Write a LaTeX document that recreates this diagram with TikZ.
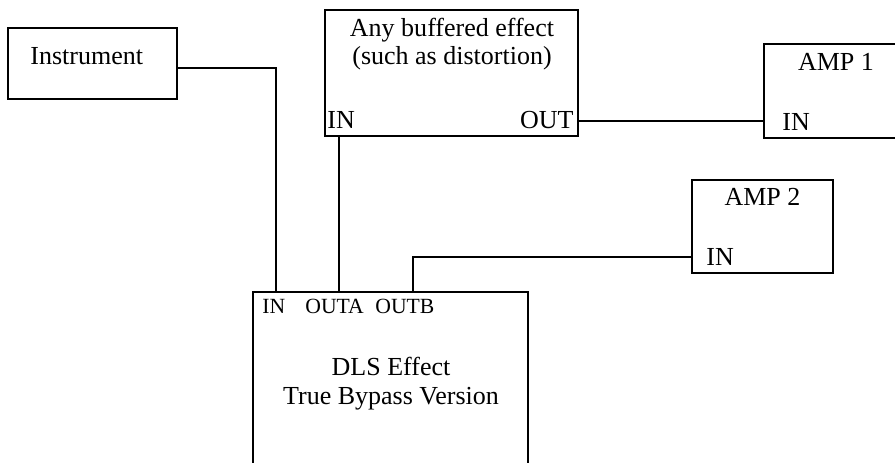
\documentclass[tikz,border=0pt]{standalone}
\usepackage{fontspec}
\setmainfont{Liberation Serif}
\def\px{0.4615pt}
\begin{document}
\begin{tikzpicture}[x=\px, y=-\px,
  box/.style={draw, line width=0.9pt, inner sep=0pt, outer sep=0pt},
  wire/.style={line width=0.9pt},
  txt/.style={font=\fontsize{12}{13}\selectfont, inner sep=0pt},
  tag/.style={font=\fontsize{12}{13}\selectfont, inner sep=0pt, anchor=base west},
  smalltag/.style={font=\fontsize{10}{12}\selectfont, inner sep=0pt, anchor=base west}]
\useasboundingbox (0,0) rectangle (895,462);

% boxes
\node[box, minimum width=169*\px, minimum height=71*\px]  (instr) at (92.5,63.5) {};
\node[box, minimum width=253*\px, minimum height=126*\px] (buff)  at (451.5,73) {};
\node[box, minimum width=144*\px, minimum height=94*\px]  (amp1)  at (836,91) {};
\node[box, minimum width=141*\px, minimum height=93*\px]  (amp2)  at (762.5,226.5) {};
\node[box, minimum width=275*\px, minimum height=208*\px] (dls)   at (390.5,396) {};

% ports
\coordinate (instrOut) at ([yshift=-4.5*\px]instr.east);
\coordinate (buffIn)   at ([xshift=-112.5*\px]buff.south);
\coordinate (buffOut)  at ([yshift=-48*\px]buff.east);
\coordinate (amp2In)   at ([yshift=-30.5*\px]amp2.west);
\coordinate (dlsIn)    at ([xshift=-114.5*\px]dls.north);
\coordinate (dlsOutA)  at ([xshift=-51.5*\px]dls.north);
\coordinate (dlsOutB)  at ([xshift=22.5*\px]dls.north);

% wiring
\draw[wire] (instrOut) -| (dlsIn);
\draw[wire] (buffIn) -- (dlsOutA);
\draw[wire] (buffOut) -- (buffOut -| amp1.west);
\draw[wire] (dlsOutB) |- (amp2In);

% labels
\node[tag] (tInstr) at (30,64) {Instrument};
\node[txt, anchor=base] (tBuff1) at (452,36) {Any buffered effect};
\node[txt, anchor=base] (tBuff2) at (452,64) {(such as distortion)};
\node[tag] (tBuffIn) at (327,128) {IN};
\node[txt, anchor=base east] (tBuffOut) at (574,128) {OUT};
\node[txt, anchor=base] (tAmp1) at (836,70) {AMP 1};
\node[tag] (tAmp1In) at (782,130) {IN};
\node[txt, anchor=base] (tAmp2) at (762.5,205) {AMP 2};
\node[tag] (tAmp2In) at (706,265) {IN};
\node[smalltag] (tDlsIn)   at (262,313) {IN};
\node[smalltag] (tDlsOutA) at (305,313) {OUTA};
\node[smalltag] (tDlsOutB) at (375,313) {OUTB};
\node[txt, anchor=base] (tDls1) at (391,375) {DLS Effect};
\node[txt, anchor=base] (tDls2) at (391,404) {True Bypass Version};
\end{tikzpicture}
\end{document}
